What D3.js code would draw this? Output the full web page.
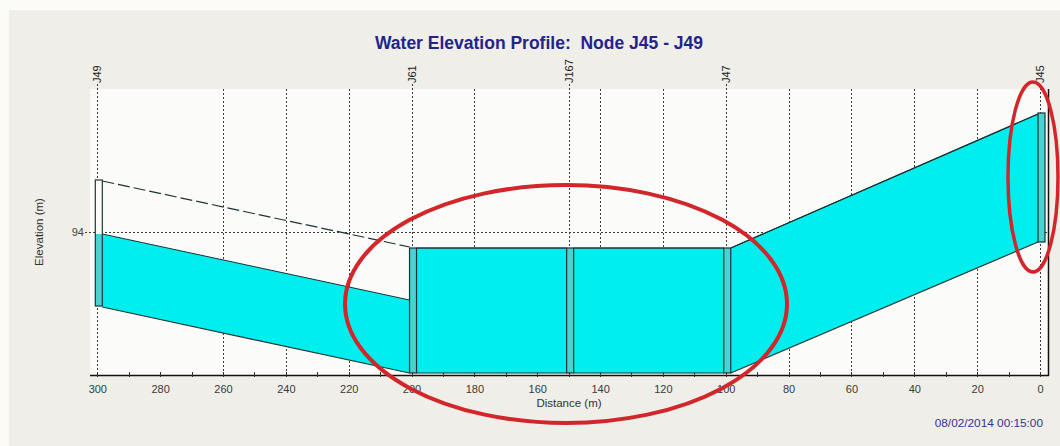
<!DOCTYPE html>
<html>
<head>
<meta charset="utf-8">
<script src="https://cdn.jsdelivr.net/npm/d3@7"></script>
<style>
  html, body { margin: 0; padding: 0; background: #fbfbf8; }
  svg { display: block; font-family: Arial, "Liberation Sans", sans-serif; }
</style>
</head>
<body>
<svg id="chart" width="1060" height="446"></svg>
<script>
// Nodes along the profile, from the downstream end (left) to the upstream end (right)
const nodeNames    = ["J49", "J61", "J167", "J47", "J45"];
const nodeDistance = [300, 200, 150, 100, 0];          // m
const nodeInvert   = [93.26, 92.59, 92.59, 92.59, 93.90]; // m
const nodeRim      = [94.52, 93.84, 93.84, 93.84, 95.19]; // m
const nodeWater    = [93.98, 93.84, 93.84, 93.84, 95.19]; // m

// Conduits linking consecutive nodes (values at left end / right end)
const conduitInvertStart = [93.25, 92.59, 92.59, 92.59];
const conduitInvertEnd   = [92.59, 92.59, 92.59, 93.90];
const conduitCrownStart  = [94.51, 93.84, 93.84, 93.84];
const conduitCrownEnd    = [93.85, 93.84, 93.84, 95.18];
const conduitWaterStart  = [93.98, 93.84, 93.84, 93.84];
const conduitWaterEnd    = [93.32, 93.84, 93.84, 95.18];

// Axes
const xTickValues = [300, 280, 260, 240, 220, 200, 180, 160, 140, 120, 100, 80, 60, 40, 20, 0];
const xGridValues = [260, 240, 220, 180, 140, 120, 80, 60, 40, 20];
const yTickValues = [94];

const titleText = "Water Elevation Profile:  Node J45 - J49";
const xLabel = "Distance (m)";
const yLabel = "Elevation (m)";
const stampText = "08/02/2014 00:15:00";

const svg = d3.select("#chart");
const W = 1060, H = 446;
const plot = { left: 90, right: 1048, top: 89, bottom: 375 };

const x = d3.scaleLinear().domain([300, 0]).range([97.3, 1040]);
const y = d3.scaleLinear().domain([92.57, 95.43]).range([plot.bottom, plot.top]);

const nodeLeft = 2, nodeRight = 5;   // node box extent around its station
const lineColor = "#1c3434";
const pipeFill = "#00eeee";
const nodeFill = "#45d3d3";
const gridColor = "#3a3a3a";

// Panel background
svg.append("rect").attr("x", 0).attr("y", 0).attr("width", W).attr("height", H).attr("fill", "#fbfbf8");
svg.append("rect").attr("x", 9).attr("y", 10).attr("width", W - 9).attr("height", H - 10).attr("fill", "#efeee9");
svg.append("rect")
  .attr("x", plot.left).attr("y", plot.top)
  .attr("width", plot.right - plot.left).attr("height", plot.bottom - plot.top)
  .attr("fill", "#fbfbf9");

// Title
svg.append("text")
  .attr("x", 539).attr("y", 49)
  .attr("text-anchor", "middle")
  .style("white-space", "pre")
  .attr("font-size", 17.5).attr("font-weight", "bold")
  .attr("fill", "#23238c")
  .text(titleText);

// Vertical grid lines
const grid = svg.append("g")
  .attr("stroke", gridColor).attr("stroke-width", 1)
  .attr("stroke-dasharray", "2,2");
grid.selectAll("line.vg").data(xGridValues).join("line")
  .attr("class", "vg")
  .attr("x1", d => Math.round(x(d)) + 0.5).attr("x2", d => Math.round(x(d)) + 0.5)
  .attr("y1", plot.top).attr("y2", plot.bottom);
grid.selectAll("line.ng").data(nodeDistance).join("line")
  .attr("class", "ng")
  .attr("x1", d => Math.round(x(d)) + 0.5).attr("x2", d => Math.round(x(d)) + 0.5)
  .attr("y1", 84).attr("y2", plot.bottom);
// Horizontal grid line(s) and y tick labels
grid.selectAll("line.hg").data(yTickValues).join("line")
  .attr("class", "hg")
  .attr("x1", 85).attr("x2", plot.right)
  .attr("y1", d => Math.round(y(d)) + 0.5).attr("y2", d => Math.round(y(d)) + 0.5);

svg.append("g").selectAll("text").data(yTickValues).join("text")
  .attr("x", 84).attr("y", d => y(d) + 4)
  .attr("text-anchor", "end").attr("font-size", 11).attr("fill", "#444")
  .text(d => d);

// Conduits
const conduits = d3.range(nodeNames.length - 1).map(i => ({
  x0: x(nodeDistance[i]) + nodeRight,
  x1: x(nodeDistance[i + 1]) - nodeLeft,
  inv0: conduitInvertStart[i], inv1: conduitInvertEnd[i],
  cr0: conduitCrownStart[i], cr1: conduitCrownEnd[i],
  w0: conduitWaterStart[i], w1: conduitWaterEnd[i]
}));

const pipes = svg.append("g");
pipes.selectAll("path.water").data(conduits).join("path")
  .attr("class", "water")
  .attr("fill", pipeFill)
  .attr("d", c => `M${c.x0},${y(c.w0)}L${c.x1},${y(c.w1)}L${c.x1},${y(c.inv1)}L${c.x0},${y(c.inv0)}Z`);
// Water surface line
pipes.selectAll("line.ws").data(conduits).join("line")
  .attr("class", "ws")
  .attr("stroke", lineColor).attr("stroke-width", 1)
  .attr("x1", c => c.x0).attr("y1", c => y(c.w0))
  .attr("x2", c => c.x1).attr("y2", c => y(c.w1));
// Crown line (dashed where the pipe runs partly full)
pipes.selectAll("line.crown").data(conduits).join("line")
  .attr("class", "crown")
  .attr("stroke", lineColor).attr("stroke-width", 1.2)
  .attr("stroke-dasharray", c => (c.w0 < c.cr0 ? "12,4" : null))
  .attr("x1", c => c.x0).attr("y1", c => y(c.cr0))
  .attr("x2", c => c.x1).attr("y2", c => y(c.cr1));
// Invert line
pipes.selectAll("line.inv").data(conduits).join("line")
  .attr("class", "inv")
  .attr("stroke", lineColor).attr("stroke-width", 1.2)
  .attr("x1", c => c.x0).attr("y1", c => y(c.inv0))
  .attr("x2", c => c.x1).attr("y2", c => y(c.inv1));

// Nodes
const nodes = nodeNames.map((n, i) => ({
  name: n, xl: x(nodeDistance[i]) - nodeLeft, xr: x(nodeDistance[i]) + nodeRight,
  inv: nodeInvert[i], rim: nodeRim[i], ws: nodeWater[i], d: nodeDistance[i]
}));
const ng = svg.append("g");
ng.selectAll("rect.empty").data(nodes).join("rect")
  .attr("class", "empty")
  .attr("x", d => d.xl).attr("width", d => d.xr - d.xl)
  .attr("y", d => y(d.rim)).attr("height", d => y(d.inv) - y(d.rim))
  .attr("fill", "#fdfdfb");
ng.selectAll("rect.full").data(nodes).join("rect")
  .attr("class", "full")
  .attr("x", d => d.xl).attr("width", d => d.xr - d.xl)
  .attr("y", d => y(d.ws)).attr("height", d => y(d.inv) - y(d.ws))
  .attr("fill", nodeFill);
ng.selectAll("rect.outline").data(nodes).join("rect")
  .attr("class", "outline")
  .attr("x", d => d.xl).attr("width", d => d.xr - d.xl)
  .attr("y", d => y(d.rim)).attr("height", d => y(d.inv) - y(d.rim))
  .attr("fill", "none").attr("stroke", lineColor).attr("stroke-width", 1.2);

// Node name labels along the top
svg.append("g").selectAll("text").data(nodes).join("text")
  .attr("transform", d => `translate(${x(d.d) + 4},83) rotate(-90)`)
  .attr("font-size", 11).attr("fill", "#222")
  .text(d => d.name);

// X axis
const xAxis = d3.axisBottom(x).tickValues(xTickValues).tickSize(0).tickPadding(10).tickFormat(d3.format("d"));
const gx = svg.append("g").attr("transform", `translate(0,${plot.bottom})`).call(xAxis);
gx.select(".domain").remove();
gx.selectAll("text").attr("font-size", 11).attr("fill", "#3a3a3a").attr("font-family", "Arial, 'Liberation Sans', sans-serif");
svg.append("line")
  .attr("x1", plot.left).attr("x2", plot.right + 1)
  .attr("y1", plot.bottom + 0.5).attr("y2", plot.bottom + 0.5)
  .attr("stroke", "#111").attr("stroke-width", 1.5);
// Minor ticks every 10 m
svg.append("g").selectAll("line").data(d3.range(0, 301, 10)).join("line")
  .attr("x1", d => Math.round(x(d)) + 0.5).attr("x2", d => Math.round(x(d)) + 0.5)
  .attr("y1", plot.bottom - 3).attr("y2", plot.bottom + 2)
  .attr("stroke", "#333").attr("stroke-width", 1);
// Right frame
svg.append("line")
  .attr("x1", plot.right + 0.5).attr("x2", plot.right + 0.5)
  .attr("y1", plot.top).attr("y2", plot.bottom + 1)
  .attr("stroke", "#111").attr("stroke-width", 1.5);

// Axis titles
svg.append("text")
  .attr("x", 569).attr("y", 407).attr("text-anchor", "middle")
  .attr("font-size", 11.5).attr("fill", "#333").text(xLabel);
svg.append("text")
  .attr("transform", "translate(43,232) rotate(-90)").attr("text-anchor", "middle")
  .attr("font-size", 11.5).attr("fill", "#333").text(yLabel);

// Time stamp
svg.append("text")
  .attr("x", 1043).attr("y", 427).attr("text-anchor", "end")
  .attr("font-size", 11.8).attr("fill", "#34348c").text(stampText);

// Red annotation rings
const rings = [
  { cx: 566, cy: 304, rx: 221, ry: 119, w: 4 },
  { cx: 1033, cy: 177, rx: 25, ry: 95, w: 3.5 }
];
svg.append("g").selectAll("ellipse").data(rings).join("ellipse")
  .attr("cx", d => d.cx).attr("cy", d => d.cy)
  .attr("rx", d => d.rx).attr("ry", d => d.ry)
  .attr("fill", "none").attr("stroke", "#d3262a").attr("stroke-width", d => d.w);
</script>
</body>
</html>
